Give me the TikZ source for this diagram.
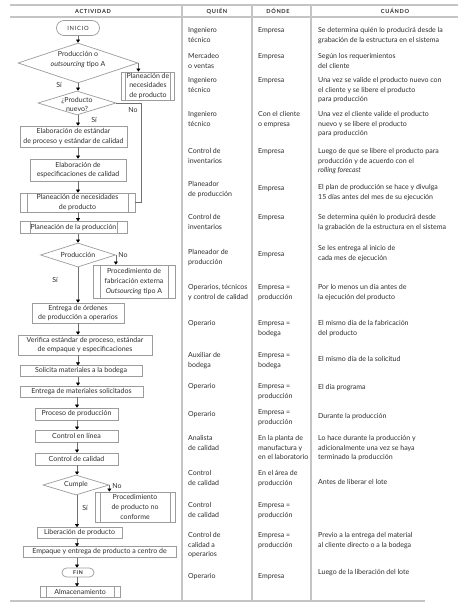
\documentclass[tikz,border=0pt]{standalone}
\usepackage{fontspec}
\setmainfont{Lato}
\newfontfamily\hdrfont{Lato}[LetterSpace=12]
\usetikzlibrary{shapes.geometric,shapes.misc,arrows.meta}
\definecolor{txt}{HTML}{2E2E2E}
\definecolor{rulec}{HTML}{C4C4C4}
\definecolor{edgec}{HTML}{9C9C9C}
\definecolor{connc}{HTML}{707070}
\newcommand\cellfnt{\fontsize{7}{9.6}\selectfont}
\newcommand\hdrfnt{\hdrfont\bfseries\fontsize{5.6}{6}\selectfont}
\newcommand\trow[7]{%
  \node[cell] (q#1) at (188,{#2-4.4}) {\strut #5};
  \node[cell] (w#1) at (258,{#3-4.4}) {\strut #6};
  \node[cell] (c#1) at (318,{#4-4.4}) {\strut #7};}
\tikzset{
  cell/.style={anchor=north west, inner sep=0pt, align=left, font=\cellfnt, text=txt},
  box/.style={draw=edgec, line width=0.7pt, fill=white, inner sep=0pt, align=center, font=\cellfnt, text=txt},
  sub/.style={box, path picture={\draw[edgec, line width=0.7pt]
     ([xshift=#1]path picture bounding box.north west) -- ([xshift=#1]path picture bounding box.south west)
     ([xshift=-#1]path picture bounding box.north east) -- ([xshift=-#1]path picture bounding box.south east);}},
  dia/.style={diamond, draw=edgec, line width=0.7pt, fill=white, inner sep=0pt},
  term/.style={rounded rectangle, draw=edgec, line width=0.7pt, fill=white, inner sep=0pt, text=txt},
  lbl/.style={inner sep=0pt, font=\cellfnt, text=txt, align=center},
  hdr/.style={inner sep=0pt, font=\hdrfnt, text=txt},
  arr/.style={draw=connc, line width=0.6pt, -{Triangle[length=3pt,width=3.8pt,color=black]}},
  ln/.style={draw=connc, line width=0.6pt},
  rl/.style={draw=rulec, line width=1.1pt}
}
\begin{document}
\begin{tikzpicture}[x=1pt,y=-1pt]
\useasboundingbox[fill=white] (0,0) rectangle (474,605);
% table rules
\draw[rl] (10,5) -- (458,5);
\draw[rl] (10,17) -- (458,17);
\draw[rl] (10,601) -- (425,601);
\draw[rl] (182,5) -- (182,601);
\draw[rl] (252,5) -- (252,601);
\draw[rl] (311,5) -- (311,601);
% headers
\node[hdr] (hA) at (93,11) {ACTIVIDAD};
\node[hdr] (hQ) at (217,11) {QUIÉN};
\node[hdr] (hD) at (278,11) {DÓNDE};
\node[hdr] (hC) at (395,11) {CUÁNDO};
% flowchart
\coordinate (sp) at (78,0);
\coordinate (sq) at (77,0);
\node[term, minimum width=43pt, minimum height=15pt, font=\hdrfont\fontsize{5.8}{6}\selectfont] (inicio) at (78,28) {INICIO};
\node[dia, minimum width=120pt, minimum height=40pt] (d1) at (78,63) {};
\node[lbl] (d1t) at (78,59.5) {Producción o\\\textit{outsourcing} tipo A};
\node[sub=4pt, minimum width=53pt, minimum height=28pt] (pnec1) at (148,86) {Planeación de\\necesidades\\de producto};
\node[dia, minimum width=78pt, minimum height=24pt] (d2) at (77,103) {};
\node[lbl] (d2t) at (77,104.5) {¿Producto\\nuevo?};
\node[box, minimum width=107pt, minimum height=21pt] (e1) at (73.5,136.5) {Elaboración de estándar\\de proceso y estándar de calidad};
\node[box, minimum width=96pt, minimum height=22pt] (e2) at (78,170) {Elaboración de\\especificaciones de calidad};
\node[sub=7pt, minimum width=115pt, minimum height=19pt] (pnec2) at (77.5,202.5) {Planeación de necesidades\\de producto};
\node[sub=10pt, minimum width=107pt, minimum height=12pt] (plprod) at (73.5,227.5) {Planeación de la producción};
\node[dia, minimum width=75pt, minimum height=24pt] (d3) at (78,255) {};
\node[lbl] (d3t) at (78,255) {Producción};
\node[sub=7pt, minimum width=82pt, minimum height=33pt] (pext) at (134,281.5) {Procedimiento de\\fabricación externa\\\textit{Outsourcing} tipo A};
\node[box, minimum width=92pt, minimum height=20pt] (eord) at (78,313) {Entrega de órdenes\\de producción a operarios};
\node[box, minimum width=134pt, minimum height=20pt] (verif) at (85,345) {Verifica estándar de proceso, estándar\\de empaque y especificaciones};
\node[box, minimum width=122pt, minimum height=10.5pt] (solic) at (81,371) {Solicita materiales a la bodega};
\node[box, minimum width=123pt, minimum height=11pt] (entmat) at (81.5,391.5) {Entrega de materiales solicitados};
\node[box, minimum width=83pt, minimum height=12pt] (proc) at (76.5,414) {Proceso de producción};
\node[box, minimum width=83pt, minimum height=12pt] (cline) at (76.5,436) {Control en línea};
\node[box, minimum width=83pt, minimum height=12pt] (ccal) at (76.5,459) {Control de calidad};
\node[dia, minimum width=66pt, minimum height=20pt] (d4) at (76,485) {};
\node[lbl] (d4t) at (76,485) {Cumple};
\node[sub=5pt, minimum width=80pt, minimum height=30pt] (pnc) at (135,507) {Procedimiento\\de producto no\\conforme};
\node[box, minimum width=85pt, minimum height=11pt] (lib) at (79.5,533) {Liberación de producto};
\node[box, minimum width=153pt, minimum height=10.5pt] (emp) at (99.5,552) {Empaque y entrega de producto a centro de};
\node[term, minimum width=32pt, minimum height=9pt, font=\hdrfont\bfseries\fontsize{5.2}{5.5}\selectfont] (fin) at (78,572.5) {FIN};
\node[sub=6pt, minimum width=80pt, minimum height=10.5pt] (alm) at (80,592) {Almacenamiento};
% connectors
\draw[arr] (inicio.south -| sp) -- (d1.north -| sp);
\draw[arr] (d1.south -| sp) -- (d2.north -| sp);
\draw[arr] (d1.east) -- (d1.east |- pnec1.north);
\coordinate (loopx) at (141,103);
\draw[ln] (d2.east) -- (loopx) |- (pnec2.east);
\draw[arr] (d2.south -| sp) -- (e1.north -| sp);
\draw[arr] (e1.south -| sp) -- (e2.north -| sp);
\draw[arr] (e2.south -| sp) -- (pnec2.north -| sp);
\draw[arr] (pnec2.south -| sp) -- (plprod.north -| sp);
\draw[arr] (plprod.south -| sp) -- (d3.north -| sp);
\draw[arr] (d3.east) -- (d3.east |- pext.north);
\draw[arr] (d3.south -| sp) -- (eord.north -| sp);
\draw[arr] (eord.south -| sp) -- (verif.north -| sp);
\draw[arr] (verif.south -| sp) -- (solic.north -| sp);
\draw[arr] (solic.south -| sp) -- (entmat.north -| sp);
\draw[arr] (entmat.south -| sq) -- (proc.north -| sq);
\draw[arr] (proc.south -| sq) -- (cline.north -| sq);
\draw[arr] (cline.south -| sq) -- (ccal.north -| sq);
\draw[arr] (ccal.south -| sq) -- (d4.north -| sq);
\draw[arr] (d4.east) -- (d4.east |- pnc.north);
\draw[arr] (d4.south -| sq) -- (lib.north -| sq);
\draw[arr] (lib.south -| sq) -- (emp.north -| sq);
\draw[arr] (emp.south -| sq) -- (fin.north -| sq);
\draw[arr] (fin.south -| sq) -- (alm.north -| sq);
% branch labels
\node[lbl] (si1) at (59,85) {Sí};
\node[lbl] (no1) at (133,110) {No};
\node[lbl] (si2) at (94,120) {Sí};
\node[lbl] (no2) at (123,255) {No};
\node[lbl] (si3) at (55,280) {Sí};
\node[lbl] (no3) at (117,486) {No};
\node[lbl] (si4) at (85,508) {Sí};
% table rows
\trow{1}{30}{30}{30}{Ingeniero\\técnico}{Empresa}{Se determina quién lo producirá desde la\\grabación de la estructura en el sistema}
\trow{2}{56}{56}{56}{Mercadeo\\o ventas}{Empresa}{Según los requerimientos\\del cliente}
\trow{3}{80}{80}{80}{Ingeniero\\técnico}{Empresa}{Una vez se valide el producto nuevo con\\el cliente y se libere el producto\\para producción}
\trow{4}{114}{114}{114}{Ingeniero\\técnico}{Con el cliente\\o empresa}{Una vez el cliente valide el producto\\nuevo y se libere el producto\\para producción}
\trow{5}{151}{151}{151}{Control de\\inventarios}{Empresa}{Luego de que se libere el producto para\\producción y de acuerdo con el\\\textit{rolling forecast}}
\trow{6}{184}{188}{187}{Planeador\\de producción}{Empresa}{El plan de producción se hace y divulga\\15 días antes del mes de su ejecución}
\trow{7}{217}{217}{217}{Control de\\inventarios}{Empresa}{Se determina quién lo producirá desde\\la grabación de la estructura en el sistema}
\trow{8}{252}{254}{248}{Planeador de\\producción}{Empresa}{Se les entrega al inicio de\\cada mes de ejecución}
\trow{9}{287}{287}{287}{Operarios, técnicos\\y control de calidad}{Empresa =\\producción}{Por lo menos un día antes de\\la ejecución del producto}
\trow{10}{323}{323}{323}{Operario}{Empresa =\\bodega}{El mismo día de la fabricación\\del producto}
\trow{11}{355}{355}{359}{Auxiliar de\\bodega}{Empresa =\\bodega}{El mismo día de la solicitud}
\trow{12}{386}{386}{387}{Operario}{Empresa =\\producción}{El día programa}
\trow{13}{414}{412}{416}{Operario}{Empresa =\\producción}{Durante la producción}
\trow{14}{438}{438}{438}{Analista\\de calidad}{En la planta de\\manufactura y\\en el laboratorio}{Lo hace durante la producción y\\adicionalmente una vez se haya\\terminado la producción}
\trow{15}{473}{473}{482}{Control\\de calidad}{En el área de\\producción}{Antes de liberar el lote}
\node[cell] (q16) at (188,{505-4.4}) {\strut Control\\de calidad};
\node[cell] (w16) at (258,{505-4.4}) {\strut Empresa =\\producción};
\trow{17}{535}{535}{535}{Control de\\calidad a\\operarios}{Empresa =\\producción}{Previo a la entrega del material\\al cliente directo o a la bodega}
\trow{18}{576}{576}{572}{Operario}{Empresa}{Luego de la liberación del lote}
\end{tikzpicture}
\end{document}
